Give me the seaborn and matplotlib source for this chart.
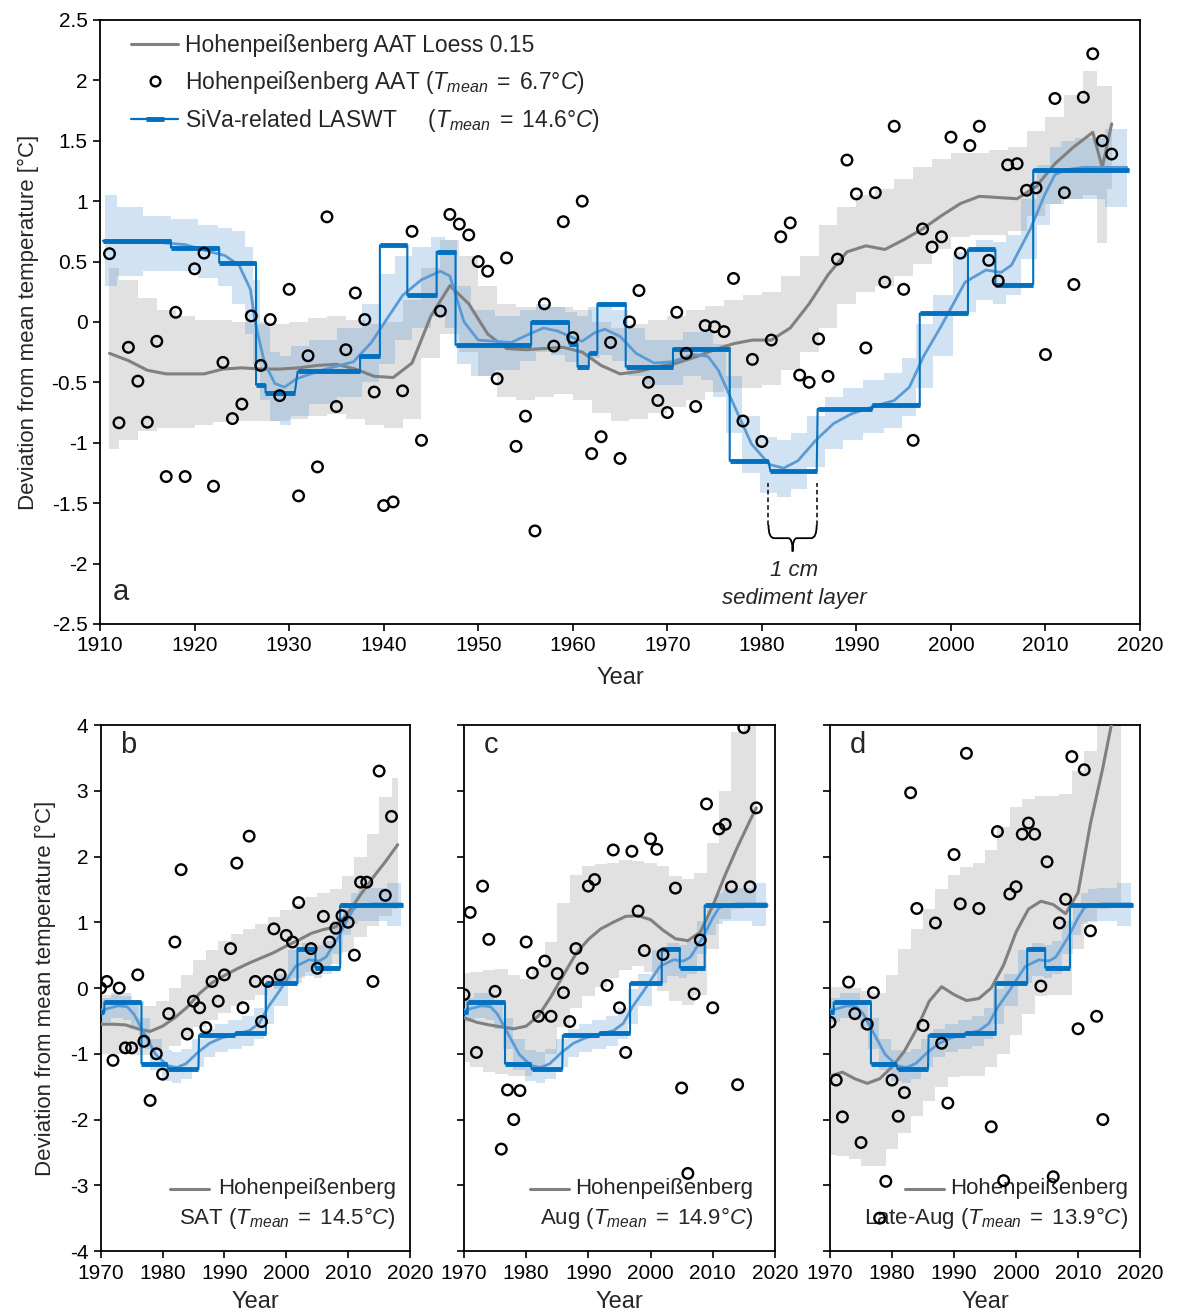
import numpy as np
import pandas as pd
import matplotlib
matplotlib.use("Agg")
import matplotlib.pyplot as plt
import seaborn as sns
from matplotlib.lines import Line2D
from matplotlib.path import Path
from matplotlib.patches import PathPatch

sns.set_theme(style="ticks")
plt.rcParams['font.family'] = ['Liberation Sans', 'DejaVu Sans']
plt.rcParams['mathtext.fontset'] = 'custom'
plt.rcParams['mathtext.rm'] = 'Liberation Sans'
plt.rcParams['mathtext.it'] = 'Liberation Sans:italic'
plt.rcParams['axes.unicode_minus'] = False

# ---------------- Panel a data ----------------
aat_years = [1911, 1912, 1913, 1914, 1915, 1916, 1917, 1918, 1919, 1920,
             1921, 1922, 1923, 1924, 1925, 1926, 1927, 1928, 1929, 1930,
             1931, 1932, 1933, 1934, 1935, 1936, 1937, 1938, 1939, 1940,
             1941, 1942, 1943, 1944, 1946, 1947, 1948, 1949, 1950,
             1951, 1952, 1953, 1954, 1955, 1956, 1957, 1958, 1959, 1960,
             1961, 1962, 1963, 1964, 1965, 1966, 1967, 1968, 1969, 1970,
             1971, 1972, 1973, 1974, 1975, 1976, 1977, 1978, 1979, 1980,
             1981, 1982, 1983, 1984, 1985, 1986, 1987, 1988, 1989, 1990,
             1991, 1992, 1993, 1994, 1995, 1996, 1997, 1998, 1999, 2000,
             2001, 2002, 2003, 2004, 2005, 2006, 2007, 2008, 2009, 2010,
             2011, 2012, 2013, 2014, 2015, 2016, 2017]
aat_values = [0.565, -0.835, -0.21, -0.49, -0.83, -0.16, -1.28, 0.08, -1.28, 0.44,
              0.57, -1.36, -0.335, -0.80, -0.68, 0.05, -0.36, 0.02, -0.61, 0.27,
              -1.44, -0.28, -1.20, 0.87, -0.70, -0.23, 0.24, 0.02, -0.58, -1.52,
              -1.49, -0.57, 0.75, -0.98, 0.09, 0.89, 0.81, 0.72, 0.50,
              0.42, -0.47, 0.53, -1.03, -0.78, -1.73, 0.15, -0.20, 0.83, -0.13,
              1.00, -1.09, -0.95, -0.17, -1.13, 0.00, 0.26, -0.50, -0.65, -0.75,
              0.08, -0.26, -0.70, -0.03, -0.04, -0.08, 0.36, -0.82, -0.31, -0.99,
              -0.15, 0.705, 0.82, -0.44, -0.50, -0.14, -0.45, 0.52, 1.34, 1.06,
              -0.215, 1.07, 0.33, 1.62, 0.27, -0.98, 0.77, 0.62, 0.705, 1.53,
              0.57, 1.46, 1.62, 0.51, 0.34, 1.30, 1.31, 1.09, 1.11, -0.27,
              1.85, 1.07, 0.31, 1.86, 2.22, 1.50, 1.39]

loess_a_years = [1911, 1913, 1915, 1917, 1919, 1921, 1923, 1925, 1927, 1929,
                 1931, 1933, 1935, 1937, 1939, 1941, 1943, 1945, 1947, 1949,
                 1951, 1953, 1955, 1957, 1959, 1961, 1963, 1965, 1967, 1969,
                 1971, 1973, 1975, 1977, 1979, 1981, 1983, 1985, 1987, 1989,
                 1991, 1993, 1995, 1997, 1999, 2001, 2003, 2005, 2007, 2009,
                 2011, 2013, 2015, 2016, 2017]
loess_a = [-0.26, -0.32, -0.40, -0.43, -0.43, -0.43, -0.39, -0.38, -0.39, -0.39,
           -0.38, -0.36, -0.35, -0.39, -0.45, -0.46, -0.34, 0.05, 0.30, 0.15,
           -0.10, -0.22, -0.23, -0.22, -0.21, -0.25, -0.36, -0.43, -0.41, -0.37,
           -0.34, -0.29, -0.23, -0.18, -0.15, -0.15, -0.05, 0.15, 0.39, 0.58,
           0.63, 0.60, 0.68, 0.77, 0.88, 0.98, 1.04, 1.03, 1.02, 1.12,
           1.31, 1.45, 1.57, 1.28, 1.64]
band_a_lo = [-1.05, -0.98, -0.90, -0.88, -0.88, -0.85, -0.83, -0.82, -0.82, -0.82,
             -0.80, -0.78, -0.76, -0.80, -0.85, -0.88, -0.80, -0.30, -0.10, -0.25,
             -0.45, -0.62, -0.65, -0.62, -0.60, -0.65, -0.75, -0.82, -0.80, -0.75,
             -0.70, -0.65, -0.58, -0.55, -0.55, -0.52, -0.40, -0.25, -0.05, 0.15,
             0.25, 0.30, 0.38, 0.48, 0.60, 0.70, 0.72, 0.72, 0.75, 0.88,
             0.98, 1.02, 1.05, 0.65, 1.10]
band_a_hi = [0.45, 0.35, 0.20, 0.10, 0.05, 0.02, 0.02, 0.00, -0.02, -0.02,
             0.00, 0.03, 0.05, 0.02, -0.02, 0.00, 0.18, 0.45, 0.68, 0.55,
             0.30, 0.15, 0.12, 0.12, 0.12, 0.10, 0.00, -0.05, -0.02, 0.02,
             0.05, 0.10, 0.13, 0.18, 0.22, 0.25, 0.38, 0.55, 0.80, 0.95,
             1.05, 1.10, 1.18, 1.28, 1.35, 1.40, 1.40, 1.42, 1.45, 1.58,
             1.70, 1.88, 2.08, 1.95, 1.95]

# SiVa-related LASWT (sediment layers)
laswt_start = [1910.3, 1917.5, 1922.6, 1926.5, 1927.5, 1930.9, 1937.5, 1939.6, 1942.5, 1945.6,
               1947.6, 1955.6, 1959.6, 1960.5, 1961.7, 1962.6, 1965.6, 1970.6, 1976.6, 1980.9,
               1985.9, 1991.7, 1996.7, 2001.8, 2004.7, 2008.7]
laswt_end = [1917.5, 1922.6, 1926.5, 1927.5, 1930.6, 1937.5, 1939.6, 1942.5, 1945.6, 1947.6,
             1955.6, 1959.6, 1960.5, 1961.7, 1962.6, 1965.6, 1970.6, 1976.6, 1980.7, 1985.8,
             1991.7, 1996.7, 2001.8, 2004.7, 2008.7, 2018.8]
laswt_val = [0.67, 0.615, 0.49, -0.52, -0.585, -0.41, -0.28, 0.635, 0.22, 0.58,
             -0.19, 0.00, -0.18, -0.37, -0.26, 0.15, -0.37, -0.22, -1.15, -1.235,
             -0.72, -0.69, 0.07, 0.60, 0.31, 1.256]

# LASWT smoothed line and uncertainty band
lb_years = [1910.5, 1913, 1916, 1919, 1921.7, 1923.2, 1924.7, 1925.9, 1926.4, 1927.4,
            1928.5, 1929.5, 1930.8, 1933.4, 1936.8, 1938.7, 1940.3, 1942, 1944, 1946,
            1947, 1948.5, 1950, 1953.5, 1955.4, 1956.9, 1958.4, 1960, 1961, 1962.3,
            1963.4, 1965, 1966.7, 1968.6, 1970.5, 1972.8, 1974.3, 1975.4, 1977, 1978.9,
            1980.8, 1982.3, 1983.8, 1985.7, 1987.6, 1989.5, 1991.8, 1994, 1995.6, 1997.1,
            1999, 2001.5, 2003.7, 2005.3, 2006.4, 2008.4, 2009.9, 2011, 2012.2, 2014,
            2018.6]
lb_line = [0.66, 0.66, 0.66, 0.64, 0.58, 0.55, 0.47, 0.27, 0.00, -0.34,
           -0.51, -0.54, -0.47, -0.40, -0.33, -0.17, 0.02, 0.22, 0.35, 0.42,
           0.38, 0.00, -0.15, -0.17, -0.10, -0.05, -0.075, -0.13, -0.16, -0.09,
           -0.06, -0.12, -0.26, -0.34, -0.33, -0.27, -0.285, -0.40, -0.68, -1.01,
           -1.18, -1.21, -1.15, -0.98, -0.84, -0.76, -0.70, -0.65, -0.54, -0.285,
           -0.03, 0.33, 0.43, 0.41, 0.47, 0.77, 1.05, 1.22, 1.26, 1.28,
           1.28]
lb_lo = [0.30, 0.38, 0.42, 0.42, 0.36, 0.30, 0.15, -0.10, -0.35, -0.65,
         -0.82, -0.85, -0.78, -0.68, -0.62, -0.50, -0.35, -0.15, -0.05, 0.05,
         -0.05, -0.35, -0.45, -0.40, -0.32, -0.25, -0.27, -0.33, -0.38, -0.30,
         -0.27, -0.32, -0.45, -0.52, -0.52, -0.45, -0.48, -0.62, -0.92, -1.25,
         -1.42, -1.45, -1.38, -1.20, -1.05, -0.98, -0.92, -0.88, -0.78, -0.55,
         -0.28, 0.08, 0.18, 0.15, 0.22, 0.52, 0.80, 0.98, 1.02, 1.02,
         0.95]
lb_hi = [1.05, 0.95, 0.88, 0.85, 0.80, 0.78, 0.75, 0.62, 0.35, 0.00,
         -0.25, -0.28, -0.20, -0.15, -0.05, 0.15, 0.40, 0.55, 0.62, 0.70,
         0.68, 0.30, 0.10, 0.05, 0.10, 0.15, 0.12, 0.08, 0.05, 0.12,
         0.15, 0.10, -0.05, -0.15, -0.15, -0.08, -0.08, -0.18, -0.45, -0.78,
         -0.95, -0.98, -0.92, -0.78, -0.62, -0.55, -0.48, -0.42, -0.30, -0.02,
         0.22, 0.58, 0.68, 0.66, 0.72, 1.02, 1.30, 1.45, 1.50, 1.52,
         1.60]

# ---------------- Panels b, c, d data ----------------
sat_years = [1970, 1971, 1972, 1973, 1974, 1975, 1976, 1977, 1978, 1979,
             1980, 1981, 1982, 1983, 1984, 1985, 1986, 1987, 1988, 1989,
             1990, 1991, 1992, 1993, 1994, 1995, 1996, 1997, 1998, 1999,
             2000, 2001, 2002, 2004, 2005, 2006, 2007, 2008, 2009, 2010,
             2011, 2012, 2013, 2014, 2015, 2016, 2017]
sat_values = [0.0, 0.10, -1.10, 0.0, -0.91, -0.91, 0.20, -0.81, -1.71, -1.0,
              -1.31, -0.39, 0.70, 1.80, -0.70, -0.20, -0.30, -0.60, 0.10, -0.20,
              0.20, 0.60, 1.90, -0.30, 2.31, 0.10, -0.51, 0.10, 0.90, 0.20,
              0.80, 0.70, 1.30, 0.60, 0.30, 1.09, 0.70, 0.91, 1.10, 1.0,
              0.50, 1.61, 1.61, 0.10, 3.30, 1.41, 2.61]

aug_years = [1970, 1971, 1972, 1973, 1974, 1975, 1976, 1977, 1978, 1979,
             1980, 1981, 1982, 1983, 1984, 1985, 1986, 1987, 1988, 1989,
             1990, 1991, 1993, 1994, 1995, 1996, 1997, 1998, 1999, 2000,
             2001, 2002, 2004, 2005, 2006, 2007, 2008, 2009, 2010, 2011,
             2012, 2013, 2014, 2015, 2016, 2017]
aug_values = [-0.10, 1.15, -0.98, 1.55, 0.74, -0.05, -2.45, -1.55, -2.0, -1.56,
              0.70, 0.23, -0.43, 0.41, -0.43, 0.22, -0.07, -0.51, 0.60, 0.30,
              1.55, 1.65, 0.04, 2.10, -0.30, -0.98, 2.08, 1.17, 0.57, 2.27,
              2.11, 0.51, 1.52, -1.52, -2.82, -0.09, 0.73, 2.80, -0.30, 2.42,
              2.49, 1.54, -1.47, 3.96, 1.54, 2.74]

late_years = [1970, 1971, 1972, 1973, 1974, 1975, 1976, 1977, 1978, 1979,
              1980, 1981, 1982, 1983, 1984, 1985, 1987, 1988, 1989, 1990,
              1991, 1992, 1994, 1996, 1997, 1998, 1999, 2000, 2001, 2002,
              2003, 2004, 2005, 2006, 2007, 2008, 2009, 2010, 2011, 2012,
              2013, 2014]
late_values = [-0.52, -1.40, -1.96, 0.09, -0.39, -2.35, -0.55, -0.07, -3.50, -2.94,
               -1.40, -1.95, -1.59, 2.97, 1.21, -0.57, 0.99, -0.84, -1.75, 2.03,
               1.28, 3.57, 1.21, -2.11, 2.38, -2.93, 1.43, 1.54, 2.34, 2.51,
               2.34, 0.03, 1.92, -2.87, 0.99, 1.35, 3.52, -0.62, 3.32, 0.87,
               -0.43, -2.0]

knots_b = [1970, 1972, 1974, 1976, 1978, 1980, 1982, 1984, 1986, 1988,
           1990, 1992, 1994, 1996, 1998, 2000, 2002, 2004, 2006, 2008,
           2010, 2012, 2014, 2016, 2018]
loess_b = [-0.55, -0.55, -0.56, -0.62, -0.66, -0.58, -0.45, -0.29, -0.08, 0.08,
           0.19, 0.29, 0.38, 0.46, 0.54, 0.64, 0.73, 0.83, 0.89, 0.93,
           1.15, 1.42, 1.68, 1.92, 2.18]
band_b_lo = [-1.0, -1.0, -1.0, -1.02, -1.02, -0.95, -0.88, -0.76, -0.60, -0.48,
             -0.38, -0.28, -0.18, -0.10, -0.02, 0.08, 0.16, 0.24, 0.30, 0.36,
             0.55, 0.78, 0.95, 1.10, 1.20]
band_b_hi = [-0.10, -0.10, -0.12, -0.20, -0.28, -0.20, 0.00, 0.20, 0.42, 0.58,
             0.72, 0.82, 0.90, 0.98, 1.08, 1.18, 1.28, 1.38, 1.45, 1.50,
             1.70, 2.00, 2.35, 2.90, 3.20]

knots_cd = [1970, 1972, 1974, 1976, 1978, 1980, 1982, 1984, 1986, 1988,
            1990, 1992, 1994, 1996, 1998, 2000, 2002, 2004, 2006, 2008,
            2010, 2012, 2014, 2016, 2017]
loess_c = [-0.45, -0.52, -0.56, -0.59, -0.62, -0.58, -0.42, -0.13, 0.20, 0.52,
           0.74, 0.90, 1.00, 1.09, 1.10, 1.04, 0.88, 0.75, 0.72, 0.85,
           1.25, 1.72, 2.15, 2.55, 2.74]
band_c_lo = [-1.12, -1.20, -1.28, -1.30, -1.34, -1.34, -1.25, -1.00, -0.60, -0.30,
             -0.12, 0.02, 0.15, 0.28, 0.33, 0.25, -0.05, -0.20, -0.26, -0.10,
             0.60, 1.05, 1.20, 1.30, 1.30]
band_c_hi = [0.23, 0.25, 0.28, 0.29, 0.20, 0.13, 0.30, 0.70, 1.30, 1.72,
             1.85, 1.88, 1.90, 1.95, 1.93, 1.90, 1.85, 1.70, 1.66, 1.75,
             2.20, 3.00, 3.90, 4.50, 4.50]
loess_d = [-1.34, -1.28, -1.38, -1.45, -1.38, -1.20, -0.96, -0.62, -0.20, 0.02,
           -0.10, -0.19, -0.16, 0.00, 0.35, 0.85, 1.20, 1.32, 1.27, 1.13,
           1.45, 2.50, 3.35, 4.30, 4.70]
band_d_lo = [-2.54, -2.56, -2.60, -2.70, -2.70, -2.45, -2.20, -1.95, -1.72, -1.50,
             -1.36, -1.34, -1.34, -1.20, -1.00, -0.72, -0.40, -0.12, -0.10, -0.10,
             0.60, 1.00, 1.20, 1.30, 1.30]
band_d_hi = [0.02, 0.02, 0.00, -0.05, -0.08, 0.20, 0.60, 0.90, 1.20, 1.50,
             1.72, 1.84, 1.90, 2.10, 2.45, 2.75, 2.88, 2.92, 2.92, 2.95,
             3.30, 3.60, 4.50, 4.50, 4.50]

xt_a = [1910, 1920, 1930, 1940, 1950, 1960, 1970, 1980, 1990, 2000, 2010, 2020]
yt_a = [-2.5, -2, -1.5, -1, -0.5, 0, 0.5, 1, 1.5, 2, 2.5]
yt_a_lab = ["-2.5", "-2", "-1.5", "-1", "-0.5", "0", "0.5", "1", "1.5", "2", "2.5"]
xt_b = [1970, 1980, 1990, 2000, 2010, 2020]
yt_b = [-4, -3, -2, -1, 0, 1, 2, 3, 4]
yt_b_lab = ["-4", "-3", "-2", "-1", "0", "1", "2", "3", "4"]

# ---------------- styles ----------------
GREY_BAND = "#e1e1e1"
GREY_LINE = "#808080"
BLUE = "#0070c0"
LBLUE = "#5b9bd5"
FS_TICK = 15
FS_LAB = 16
FS_LEG = 16.5

fig = plt.figure(figsize=(11.77, 13.13), dpi=100)
ax_a = fig.add_axes([0.085, 0.5248, 0.8836, 0.46])
ax_b = fig.add_axes([0.0855, 0.0472, 0.2629, 0.4006])
ax_c = fig.add_axes([0.3942, 0.0472, 0.2642, 0.4006])
ax_d = fig.add_axes([0.7052, 0.0472, 0.2634, 0.4006])


def laswt_path():
    xs, ys = [], []
    for s, e, v in zip(laswt_start, laswt_end, laswt_val):
        xs += [s, e]
        ys += [v, v]
    return pd.DataFrame({"x": xs, "y": ys})


def draw_common(ax, pts_x, pts_y, lx, ly, blo, bhi, ms):
    ax.fill_between(lx, blo, bhi, step="mid", color=GREY_BAND, lw=0, zorder=1)
    ax.fill_between(lb_years, lb_lo, lb_hi, step="mid", color=LBLUE, alpha=0.28, lw=0, zorder=2)
    sns.lineplot(x=lx, y=ly, ax=ax, color=GREY_LINE, lw=2.2, sort=False, estimator=None, zorder=3)
    sns.lineplot(x=lb_years, y=lb_line, ax=ax, color=LBLUE, lw=2, sort=False, estimator=None, zorder=4)
    path = laswt_path()
    sns.lineplot(data=path, x="x", y="y", ax=ax, color=BLUE, lw=1.5, sort=False, estimator=None, zorder=5)
    ax.hlines(laswt_val, laswt_start, laswt_end, color=BLUE, lw=3.5, zorder=6)
    sns.scatterplot(x=pts_x, y=pts_y, ax=ax, marker="o", s=ms, facecolor="none",
                    edgecolor="black", linewidth=1.7, zorder=7)


def style_axes(ax):
    for sp in ax.spines.values():
        sp.set_visible(True)
        sp.set_color("black")
        sp.set_linewidth(1.3)
    ax.tick_params(direction="out", length=5, width=1.2, labelsize=FS_TICK, colors="black", pad=4)
    ax.grid(False)


# ---- panel a ----
draw_common(ax_a, aat_years, aat_values, loess_a_years, loess_a, band_a_lo, band_a_hi, 58)
ax_a.set_xlim(1910, 2020)
ax_a.set_ylim(-2.5, 2.5)
ax_a.set_xticks(xt_a)
ax_a.set_xticklabels([str(v) for v in xt_a])
ax_a.set_yticks(yt_a)
ax_a.set_yticklabels(yt_a_lab)
ax_a.set_xlabel("Year", fontsize=FS_LAB + 1, labelpad=8)
ax_a.set_ylabel("Deviation from mean temperature [°C]", fontsize=FS_LAB, labelpad=9)
style_axes(ax_a)
ax_a.text(0.012, 0.03, "a", transform=ax_a.transAxes, fontsize=21, ha="left", va="bottom")

# 1 cm sediment layer annotation
ax_a.vlines([1980.7, 1985.8], -1.68, -1.33, colors="black", lw=1.1, linestyles=(0, (3, 2)), zorder=8)
m = 1983.25
verts = [(1980.7, -1.68), (1980.7, -1.79), (1981.3, -1.79), (m - 0.45, -1.79), (m, -1.79), (m, -1.90),
         (m, -1.79), (m + 0.45, -1.79), (1985.2, -1.79), (1985.8, -1.79), (1985.8, -1.68)]
codes = [Path.MOVETO, Path.CURVE3, Path.CURVE3, Path.LINETO, Path.CURVE3, Path.CURVE3,
         Path.CURVE3, Path.CURVE3, Path.LINETO, Path.CURVE3, Path.CURVE3]
ax_a.add_patch(PathPatch(Path(verts, codes), fill=False, lw=1.3, color="black", zorder=8))
ax_a.text(m + 0.2, -2.06, "1 cm", fontsize=FS_LAB, style="italic", ha="center", va="center")
ax_a.text(m + 0.2, -2.29, "sediment layer", fontsize=FS_LAB, style="italic", ha="center", va="center")

handles = [
    Line2D([], [], color=GREY_LINE, lw=2.2),
    Line2D([], [], color="black", lw=0, marker="o", markersize=7, markerfacecolor="none", markeredgewidth=1.7),
    Line2D([], [], color=BLUE, lw=1.6, marker="_", markersize=13, markeredgewidth=3.5),
]
labels = [
    "Hohenpeißenberg AAT Loess 0.15",
    r"Hohenpeißenberg AAT $\mathit{(T_{mean}\;=\;6.7°C)}$",
    r"SiVa-related LASWT     $\mathit{(T_{mean}\;=\;14.6°C)}$",
]
ax_a.legend(handles, labels, loc="upper left", bbox_to_anchor=(0.018, 0.997), frameon=False,
            fontsize=FS_LEG, handlelength=2.05, handletextpad=0.3, labelspacing=0.5, borderaxespad=0.15)

# ---- panels b, c, d ----
bottom = [
    (ax_b, sat_years, sat_values, knots_b, loess_b, band_b_lo, band_b_hi, "b", "SAT", "14.5", 0.955, 0.224),
    (ax_c, aug_years, aug_values, knots_cd, loess_c, band_c_lo, band_c_hi, "c", "Aug", "14.9", 0.929, 0.212),
    (ax_d, late_years, late_values, knots_cd, loess_d, band_d_lo, band_d_hi, "d", "Late-Aug", "13.9", 0.961, 0.242),
]
for ax, px, py, kx, ly, lo, hi, letter, name, tm, xr, hx in bottom:
    draw_common(ax, px, py, kx, ly, lo, hi, 58)
    ax.set_xlim(1970, 2020)
    ax.set_ylim(-4, 4)
    ax.set_xticks(xt_b)
    ax.set_xticklabels([str(v) for v in xt_b])
    ax.set_yticks(yt_b)
    if ax is ax_b:
        ax.set_yticklabels(yt_b_lab)
        ax.set_ylabel("Deviation from mean temperature [°C]", fontsize=FS_LAB, labelpad=10)
    else:
        ax.set_yticklabels([])
        ax.set_ylabel("")
    ax.set_xlabel("Year", fontsize=FS_LAB + 1, labelpad=6)
    style_axes(ax)
    ax.text(0.063, 0.962, letter, transform=ax.transAxes, fontsize=21, ha="left", va="center")
    ax.text(xr, 0.118, "Hohenpeißenberg", transform=ax.transAxes, fontsize=FS_LAB, ha="right", va="center")
    ax.text(xr, 0.062, name + r" $\mathit{(T_{mean}\;=\;" + tm + r"°C)}$", transform=ax.transAxes,
            fontsize=FS_LAB, ha="right", va="center")
    ax.add_line(Line2D([hx, hx + 0.125], [0.118, 0.118], transform=ax.transAxes, color=GREY_LINE, lw=2.2))

fig.savefig("out.png", dpi=100, facecolor="white")
